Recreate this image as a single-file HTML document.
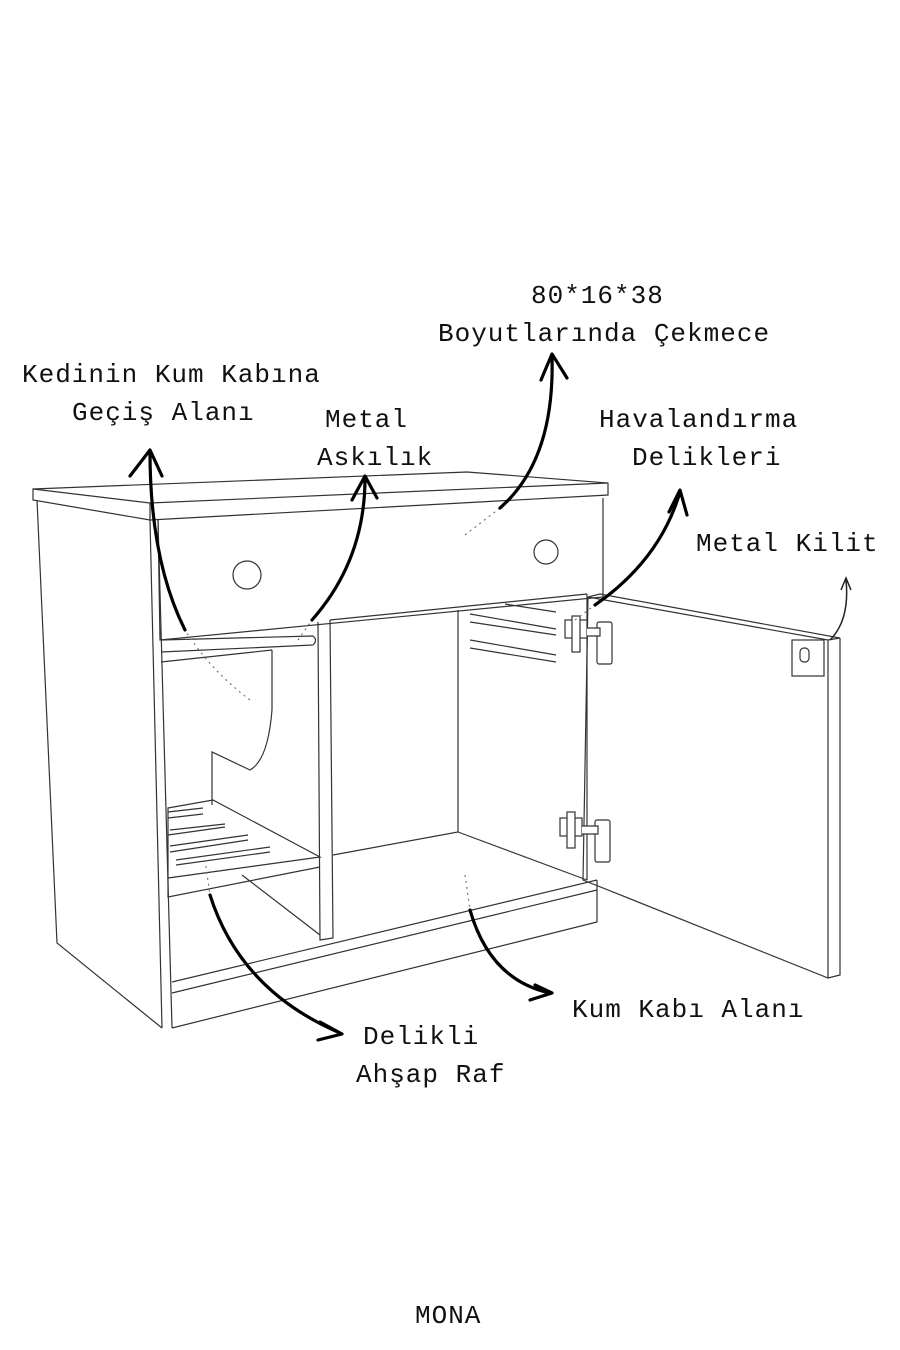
<!DOCTYPE html>
<html><head><meta charset="utf-8"><style>
html,body{margin:0;padding:0;background:#fff}
svg{display:block}
text{font-family:"Liberation Mono","DejaVu Sans Mono",monospace;font-size:26px;fill:#111;letter-spacing:1px}
.l{fill:none;stroke:#333;stroke-width:1.2}
.a{fill:none;stroke:#000;stroke-width:3.2;stroke-linecap:round;stroke-linejoin:round}
.d{fill:none;stroke:#777;stroke-width:1.2;stroke-dasharray:2 4}
</style></head><body>
<svg width="900" height="1350" viewBox="0 0 900 1350">
<rect width="900" height="1350" fill="#fff"/>
<path class="l" d="M33,489 L467,472 L608,483 L608,495 L150,520 L33,500 Z"/>
<path class="l" d="M150,503 L608,483 M150,503 L150,520 M33,489 L150,503"/>
<path class="l" d="M37,500 L57,943 L162,1028 M150,520 L162,1028 M158,520 L172,1028"/>
<path class="l" d="M158,520 L160,640 L603,597 L603,498"/>
<circle class="l" cx="247" cy="575" r="14"/>
<circle class="l" cx="546" cy="552" r="12"/>
<path class="l" d="M161,640 L313,636 M161,652 L313,645 M313,636 Q318,640 313,645"/>
<path class="l" d="M161,662 L272,650 M272,650 L272,710 Q268,760 250,770 L212,752 L212,805"/>
<path class="l" d="M168,808 L213,800 L320,857 L168,878 Z M168,878 L168,897 L320,867 M242,875 L320,935"/>
<path class="l" d="M168,818 L203,814 M170,830 L225,824 M170,846 L248,835 M176,860 L270,847"/>
<path class="l" d="M168,812 L203,808 M168,835 L225,827 M170,852 L248,840 M176,865 L270,852"/>
<path class="l" d="M318,622 L320,940 L333,938 L330,620"/>
<path class="l" d="M330,620 L587,594 M458,610 L458,832 L333,855 M458,832 L587,880"/>
<path class="l" d="M470,614 L556,629 M470,622 L556,635 M470,640 L556,655 M470,648 L556,662 M505,604 L556,612"/>
<path class="l" d="M172,982 L597,880 M172,993 L597,890 M172,1028 L597,922 L597,880"/>
<path class="l" d="M587,594 L587,880"/>
<path class="l" d="M588,597 L828,640 L840,638 L600,594 Z M588,597 L583,880 L828,978 L828,640 M840,638 L840,975 L828,978"/>
<g fill="#fff" stroke="#333" stroke-width="1.2">
<rect x="565" y="620" width="22" height="18"/><rect x="572" y="616" width="8" height="36"/>
<rect x="597" y="622" width="15" height="42" rx="2"/><path d="M587,628 L600,628 L600,636 L587,636"/>
<rect x="560" y="818" width="22" height="18"/><rect x="567" y="812" width="8" height="36"/>
<rect x="595" y="820" width="15" height="42" rx="2"/><path d="M582,826 L598,826 L598,834 L582,834"/>
<rect x="792" y="640" width="32" height="36"/><rect x="800" y="648" width="9" height="14" rx="4"/>
</g>
<path class="d" d="M250,700 Q210,670 185,630"/>
<path class="a" d="M185,630 Q150,560 150,452 M130,476 L150,450 L162,476"/>
<path class="d" d="M298,640 L312,620"/>
<path class="a" d="M312,620 Q365,560 365,478 M352,500 L365,476 L377,498"/>
<path class="d" d="M465,535 L500,508"/>
<path class="a" d="M500,508 Q555,460 552,356 M541,380 L552,354 L567,378"/>
<path class="d" d="M575,620 L595,605"/>
<path class="a" d="M595,605 Q660,560 680,492 M669,512 L680,490 L687,515"/>
<path fill="none" stroke="#222" stroke-width="1.5" d="M830,640 Q850,620 846,580 M841,590 L846,578 L851,590"/>
<path class="d" d="M205,860 L210,895"/>
<path class="a" d="M210,895 Q240,990 340,1033 M320,1022 L342,1034 L318,1040"/>
<path class="d" d="M465,875 L470,910"/>
<path class="a" d="M470,910 Q490,980 550,993 M535,985 L552,993 L530,1000"/>
<text x="22" y="382">Kedinin Kum Kabına</text>
<text x="72" y="420">Geçiş Alanı</text>
<text x="325" y="427">Metal</text>
<text x="317" y="465">Askılık</text>
<text x="531" y="303">80*16*38</text>
<text x="438" y="341">Boyutlarında Çekmece</text>
<text x="599" y="427">Havalandırma</text>
<text x="632" y="465">Delikleri</text>
<text x="696" y="551">Metal Kilit</text>
<text x="363" y="1044">Delikli</text>
<text x="356" y="1082">Ahşap Raf</text>
<text x="572" y="1017">Kum Kabı Alanı</text>
<text x="415" y="1323">MONA</text>
</svg>
</body></html>
